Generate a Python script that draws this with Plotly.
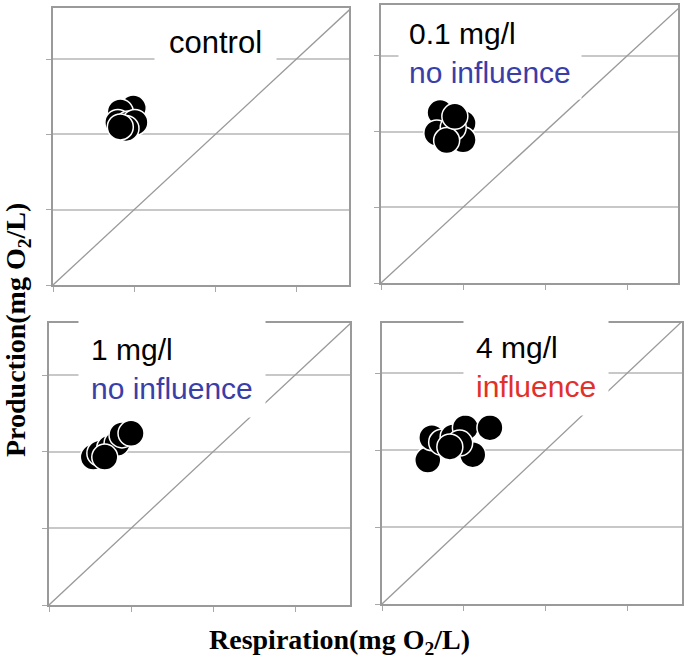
import plotly.graph_objects as go

# ---- data (axes have no numeric labels) ----
panel_labels = ["control", "0.1 mg/l", "1 mg/l", "4 mg/l"]
panel_verdicts = ["", "no influence", "no influence", "influence"]

control_resp = [0.99, 0.83, 0.80, 0.93, 1.01, 0.90, 0.83]
control_prod = [2.35, 2.30, 2.16, 2.14, 2.16, 2.08, 2.10]

c01_resp = [0.72, 0.68, 1.00, 1.00, 0.88, 0.80, 0.90]
c01_prod = [2.25, 1.98, 2.11, 1.89, 2.05, 1.88, 2.20]

c1_resp = [0.54, 0.62, 0.74, 0.83, 0.89, 1.00, 0.68]
c1_prod = [1.93, 1.98, 2.05, 2.11, 2.22, 2.24, 1.93]

c4_resp = [0.56, 0.61, 0.73, 0.87, 1.02, 1.32, 1.11, 0.95, 0.83]
c4_prod = [1.87, 2.16, 2.10, 2.17, 2.29, 2.29, 1.94, 2.09, 2.04]

one_to_one = [0, 4]
tick_values = [0, 1, 2, 3]

series = [(control_resp, control_prod), (c01_resp, c01_prod),
          (c1_resp, c1_prod), (c4_resp, c4_prod)]

W, H = 685, 665
def px(x): return x / W
def py(y): return 1 - y / H

# panel pixel boxes: (left, right, top, bottom)
boxes = [(53, 349, 8, 285), (381, 678, 5, 283), (49, 350, 323, 605), (382, 682, 323, 604)]
ranges = [(3.65, 3.68), (3.62, 3.67), (3.67, 3.68), (3.67, 3.65)]

fig = go.Figure()
layout = {}
for i, ((xs, ys), (l, r, t, b), (rx, ry)) in enumerate(zip(series, boxes, ranges)):
    n = "" if i == 0 else str(i + 1)
    xa, ya = "x" + n, "y" + n
    fig.add_trace(go.Scatter(x=one_to_one, y=one_to_one, mode="lines",
                             line=dict(color="#9a9a9a", width=1.3),
                             xaxis=xa, yaxis=ya, showlegend=False, hoverinfo="skip"))
    fig.add_trace(go.Scatter(x=xs, y=ys, mode="markers",
                             marker=dict(size=26, color="black",
                                         line=dict(color="white", width=1.5)),
                             xaxis=xa, yaxis=ya, showlegend=False))
    common = dict(showticklabels=False, ticks="outside", ticklen=5, tickwidth=1.3,
                  tickcolor="#a8a8a8", tickvals=tick_values, showline=True,
                  linecolor="#9a9a9a", linewidth=1.6, mirror=True, zeroline=False)
    layout["xaxis" + n] = dict(domain=[px(l), px(r)], range=[0, rx],
                               showgrid=False, anchor=ya, **common)
    layout["yaxis" + n] = dict(domain=[py(b), py(t)], range=[0, ry],
                               showgrid=True, gridcolor="#c8c8c8", gridwidth=1.5,
                               anchor=xa, **common)

blue = "#3a3ea8"
red = "#e2302b"
serif = "Liberation Serif, Times New Roman, serif"
annotations = [
    dict(text=panel_labels[0], x=px(215), y=py(43), xanchor="center", yanchor="middle",
         font=dict(size=31, color="black"), bgcolor="white", borderpad=14),
    dict(text=f"{panel_labels[1]}<br><span style='color:{blue}'>{panel_verdicts[1]}</span>",
         x=px(398), y=py(53), xanchor="left", yanchor="middle", align="left",
         font=dict(size=30, color="black"), bgcolor="white", borderpad=10),
    dict(text=f"{panel_labels[2]}<br><span style='color:{blue}'>{panel_verdicts[2]}</span>",
         x=px(78), y=py(369), xanchor="left", yanchor="middle", align="left",
         font=dict(size=30, color="black"), bgcolor="white", borderpad=12),
    dict(text=f"{panel_labels[3]}<br><span style='color:{red}'>{panel_verdicts[3]}</span>",
         x=px(463), y=py(367), xanchor="left", yanchor="middle", align="left",
         font=dict(size=30, color="black"), bgcolor="white", borderpad=12),
    dict(text="<b>Respiration(mg O<sub>2</sub>/L)</b>", x=px(339), y=py(641),
         xanchor="center", yanchor="middle",
         font=dict(size=28, color="black", family=serif)),
    dict(text="<b>Production(mg O<sub>2</sub>/L)</b>", x=px(17), y=py(330),
         xanchor="center", yanchor="middle", textangle=-90,
         font=dict(size=28, color="black", family=serif)),
]
for a in annotations:
    a.update(xref="paper", yref="paper", showarrow=False)

fig.update_layout(width=W, height=H, margin=dict(l=0, r=0, t=0, b=0),
                  paper_bgcolor="white", plot_bgcolor="white",
                  font=dict(family="Liberation Sans, Arial, sans-serif"),
                  annotations=annotations, **layout)
fig.write_html("out.html", config={"displayModeBar": False},
               post_script="document.body.style.margin='0px';document.body.style.overflow='hidden';")
